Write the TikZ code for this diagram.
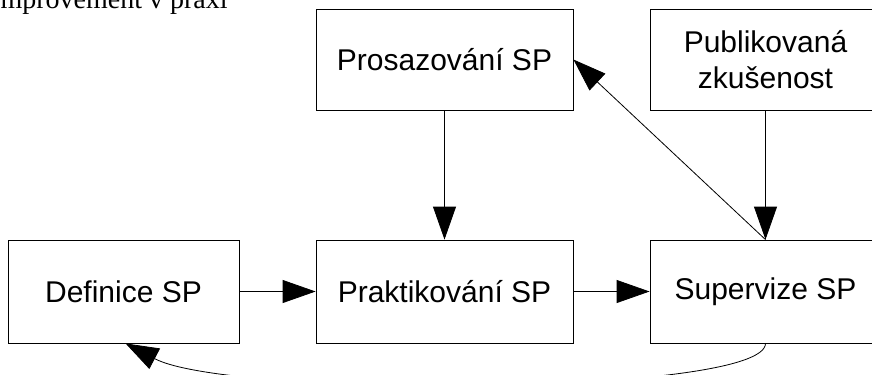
\documentclass[tikz,border=0pt]{standalone}
\usepackage{fontspec}
\setmainfont{Liberation Sans}
\newfontfamily\titlefont{Liberation Serif}
\usetikzlibrary{arrows.meta}
\tikzset{
  box/.style={draw=black, line width=0.8bp, inner sep=0pt, align=center,
    font=\fontsize{30bp}{36bp}\selectfont},
  conn/.style={draw=black, line width=0.8bp, -{Triangle[length=33bp,width=23bp]}}
}
\begin{document}
\begin{tikzpicture}[x=1bp,y=-1bp]
\useasboundingbox (0,0) rectangle (872,374);
\node[anchor=base west, font=\titlefont\fontsize{28bp}{32bp}\selectfont, inner sep=0pt] (title) at (-9,8) {Improvement v praxi};
\node[box, minimum width=231bp, minimum height=103bp] (def) at (123.5,291.5) {Definice SP};
\node[box, minimum width=257bp, minimum height=103bp] (prak) at (444.5,291.5) {Praktikování SP};
\node[box, minimum width=231bp, minimum height=103bp] (sup) at (765.5,291.5) {Supervize SP};
\node[box, minimum width=257bp, minimum height=101bp] (pros) at (444.5,59.5) {Prosazování SP};
\node[box, minimum width=231bp, minimum height=101bp] (pub) at (765.5,59.5) {Publikovaná\\zkušenost};
\draw[conn] (def) -- (prak);
\draw[conn] (prak) -- (sup);
\draw[conn] (pros) -- (prak);
\draw[conn] (pub) -- (sup);
\draw[conn] (sup.north) -- (pros.east);
\draw[conn] (sup.south) .. controls +(0,52) and +(105,55) .. ([xshift=2bp]def.south);
\end{tikzpicture}
\end{document}
